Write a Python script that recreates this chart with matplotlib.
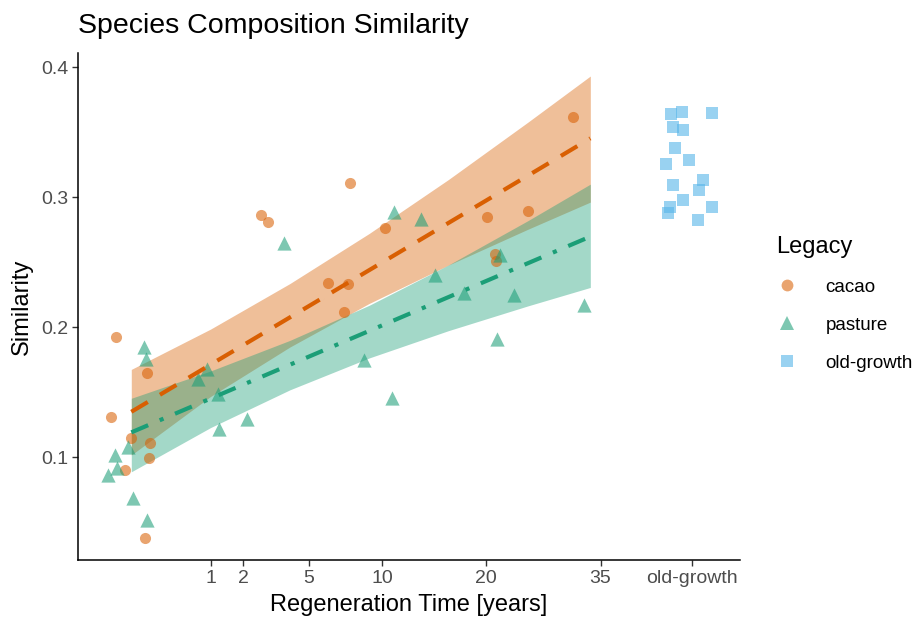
import numpy as np
import matplotlib
matplotlib.use("Agg")
import matplotlib.pyplot as plt
from matplotlib.lines import Line2D

plt.rcParams['font.family'] = ['Liberation Sans', 'DejaVu Sans']

# ---------------- data ----------------
# x positions are on the square-root time axis (sqrt(years)); points near 0 are jittered
cacao_x = [-0.193, 0.202, -0.256, -0.008, 0.236, 0.223, -0.079, 0.173, 1.636, 1.728,
           2.484, 2.736, 2.686, 2.758, 3.199, 4.482, 5.006, 5.574, 4.586, 4.599]
cacao_y = [0.1927, 0.1650, 0.1312, 0.1151, 0.1108, 0.0997, 0.0902, 0.0382, 0.2862, 0.2811,
           0.2337, 0.2330, 0.2119, 0.3106, 0.2765, 0.2849, 0.2893, 0.3618, 0.2563, 0.2509]

pasture_x = [0.160, 0.185, 0.951, 0.837, 1.093, 1.106, 1.455, -0.045, -0.206, -0.177,
             -0.290, 0.025, 0.198, 1.929, 3.313, 3.649, 3.830, 4.199, 4.649, 4.830,
             5.709, 4.608, 2.938, 3.291]
pasture_y = [0.1850, 0.1753, 0.1676, 0.1600, 0.1487, 0.1215, 0.1297, 0.1081, 0.1018, 0.0915,
             0.0864, 0.0689, 0.0518, 0.2645, 0.2888, 0.2829, 0.2401, 0.2261, 0.2555, 0.2248,
             0.2171, 0.1907, 0.1748, 0.1453]

oldgrowth_x = [6.802, 6.941, 7.319, 6.835, 6.961, 6.856, 6.743, 7.037, 7.213, 6.827,
               7.163, 6.961, 7.319, 6.793, 6.764, 7.142]
oldgrowth_y = [0.3636, 0.3654, 0.3646, 0.3541, 0.3513, 0.3380, 0.3257, 0.3283, 0.3129, 0.3091,
               0.3052, 0.2978, 0.2924, 0.2926, 0.2880, 0.2826]

# fitted model (years) with fit and confidence band
fit_years = [0, 1, 4, 9, 16, 25, 33.5]
cacao_fit = [0.1350, 0.1713, 0.2076, 0.2439, 0.2802, 0.3165, 0.3452]
cacao_hi = [0.1676, 0.1986, 0.2336, 0.2721, 0.3136, 0.3576, 0.3931]
cacao_lo = [0.1018, 0.1468, 0.1848, 0.2183, 0.2478, 0.2753, 0.2962]
pasture_fit = [0.1192, 0.1452, 0.1712, 0.1972, 0.2232, 0.2492, 0.2697]
pasture_hi = [0.1454, 0.1664, 0.1899, 0.2169, 0.2479, 0.2819, 0.3100]
pasture_lo = [0.0889, 0.1229, 0.1519, 0.1764, 0.1974, 0.2164, 0.2306]

x_tick_years = [1, 2, 5, 10, 20, 35, 50]
x_tick_labels = ['1', '2', '5', '10', '20', '35', 'old-growth']
y_ticks = [0.1, 0.2, 0.3, 0.4]

legend_labels = ['cacao', 'pasture', 'old-growth']
col_cacao = '#D95F02'
col_pasture = '#1B9E77'
col_old = '#56B4E9'

# ---------------- figure ----------------
W, H = 918, 619
fig = plt.figure(figsize=(W / 100, H / 100), dpi=100)
ax = fig.add_axes([78 / W, 1 - 560 / H, (740 - 78) / W, (560 - 53) / H])

fx = np.sqrt(fit_years)
ax.fill_between(fx, cacao_lo, cacao_hi, color=col_cacao, alpha=0.40, linewidth=0, zorder=1)
ax.fill_between(fx, pasture_lo, pasture_hi, color=col_pasture, alpha=0.40, linewidth=0, zorder=1)

pt_alpha = 0.57
ax.scatter(cacao_x, cacao_y, s=64, marker='o', color=col_cacao, alpha=pt_alpha, linewidths=0, zorder=2)
ax.scatter(pasture_x, pasture_y, s=105, marker='^', color=col_pasture, alpha=pt_alpha, linewidths=0, zorder=2)
ax.scatter(oldgrowth_x, oldgrowth_y, s=64, marker='s', color=col_old, alpha=pt_alpha + 0.03, linewidths=0, zorder=2)

ax.plot(fx, cacao_fit, color=col_cacao, lw=3.0, dashes=(4.6, 3.4), zorder=3)
ax.plot(fx, pasture_fit, color=col_pasture, lw=3.0, dashes=(4.4, 3.0, 1.0, 3.0), zorder=3)

ax.set_xlim(-0.672, 7.675)
ax.set_ylim(0.0211, 0.4108)
ax.set_xticks(np.sqrt(x_tick_years))
ax.set_xticklabels(x_tick_labels)
ax.set_yticks(y_ticks)
ax.set_yticklabels([f'{v:.1f}' for v in y_ticks])

for s in ['top', 'right']:
    ax.spines[s].set_visible(False)
for s in ['left', 'bottom']:
    ax.spines[s].set_linewidth(1.1)
    ax.spines[s].set_color('black')
ax.tick_params(axis='both', length=4, width=1.0, color='#333333', labelcolor='#4D4D4D',
               labelsize=14, pad=3)

ax.set_xlabel('Regeneration Time [years]', fontsize=17, color='black', labelpad=5)
ax.set_ylabel('Similarity', fontsize=17, color='black', labelpad=6)

fig.text(78 / W, 1 - 33 / H, 'Species Composition Similarity', fontsize=20.5,
         ha='left', va='baseline', color='black')

handles = [
    Line2D([], [], marker='o', linestyle='none', markersize=8.5, color=col_cacao, alpha=pt_alpha, markeredgewidth=0),
    Line2D([], [], marker='^', linestyle='none', markersize=10.5, color=col_pasture, alpha=pt_alpha, markeredgewidth=0),
    Line2D([], [], marker='s', linestyle='none', markersize=8.5, color=col_old, alpha=pt_alpha + 0.03, markeredgewidth=0),
]
leg = ax.legend(handles, legend_labels, title='Legacy', loc='upper left',
                bbox_to_anchor=(770 / W, 1 - 230 / H), bbox_transform=fig.transFigure,
                frameon=False, fontsize=13.5, title_fontsize=17, labelspacing=1.12,
                handlelength=1.2, handletextpad=1.45, borderaxespad=0, borderpad=0.3)
leg._legend_box.align = 'left'

fig.savefig('out.png', dpi=100)
